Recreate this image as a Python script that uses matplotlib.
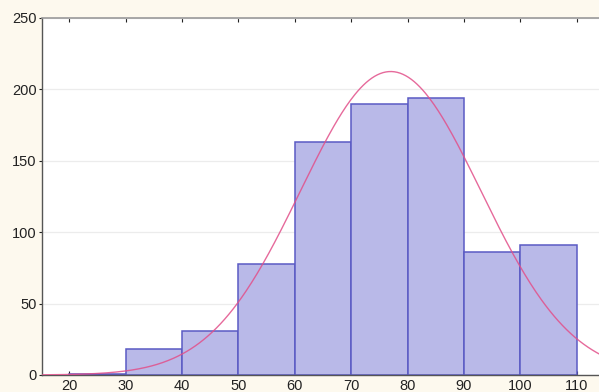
import numpy as np
import matplotlib
matplotlib.use("Agg")
import matplotlib.pyplot as plt

# Histogram counts per 10-unit class
bin_edges = [20, 30, 40, 50, 60, 70, 80, 90, 100, 110]
counts = [1, 18, 31, 78, 163, 190, 194, 86, 91]

# Fitted normal curve parameters
fit_mean = 77.0
fit_sd = 16.0

x_ticks = [20, 30, 40, 50, 60, 70, 80, 90, 100, 110]
y_ticks = [0, 50, 100, 150, 200, 250]

plt.rcParams["font.family"] = ["Liberation Sans", "DejaVu Sans"]

fig = plt.figure(figsize=(5.99, 3.92), dpi=100)
fig.patch.set_facecolor("#fdf9ee")
ax = fig.add_axes([0.0701, 0.0434, 0.93, 0.911])
ax.set_facecolor("white")

lefts = np.array(bin_edges[:-1])
widths = np.diff(bin_edges)
ax.bar(lefts, counts, width=widths, align="edge", color="#b9b9e8",
       edgecolor="#5a5ac4", linewidth=1.1, zorder=2)

n = sum(counts)
xs = np.linspace(15, 115, 400)
pdf = np.exp(-0.5 * ((xs - fit_mean) / fit_sd) ** 2) / (fit_sd * np.sqrt(2 * np.pi))
ax.plot(xs, n * 10 * pdf, color="#e2508a", lw=1.0, alpha=0.85, zorder=3)

ax.set_xlim(15.16, 113.95)
ax.set_ylim(0, 250)
ax.set_xticks(x_ticks)
ax.set_yticks(y_ticks)
ax.tick_params(axis="both", labelsize=10.5, colors="#222222", length=3,
               width=0.8, pad=2)
ax.tick_params(axis="x", top=True, direction="in", pad=3)
ax.tick_params(axis="y", direction="out", length=2)
ax.yaxis.grid(True, color="#ececec", lw=0.9, zorder=0)
ax.set_axisbelow(True)

for side in ("left", "bottom"):
    ax.spines[side].set_color("#555555")
    ax.spines[side].set_linewidth(1.0)
ax.spines["top"].set_color("#9a9a9a")
ax.spines["top"].set_linewidth(1.2)
ax.spines["right"].set_visible(False)

fig.savefig("out.png", dpi=100, facecolor=fig.get_facecolor())
